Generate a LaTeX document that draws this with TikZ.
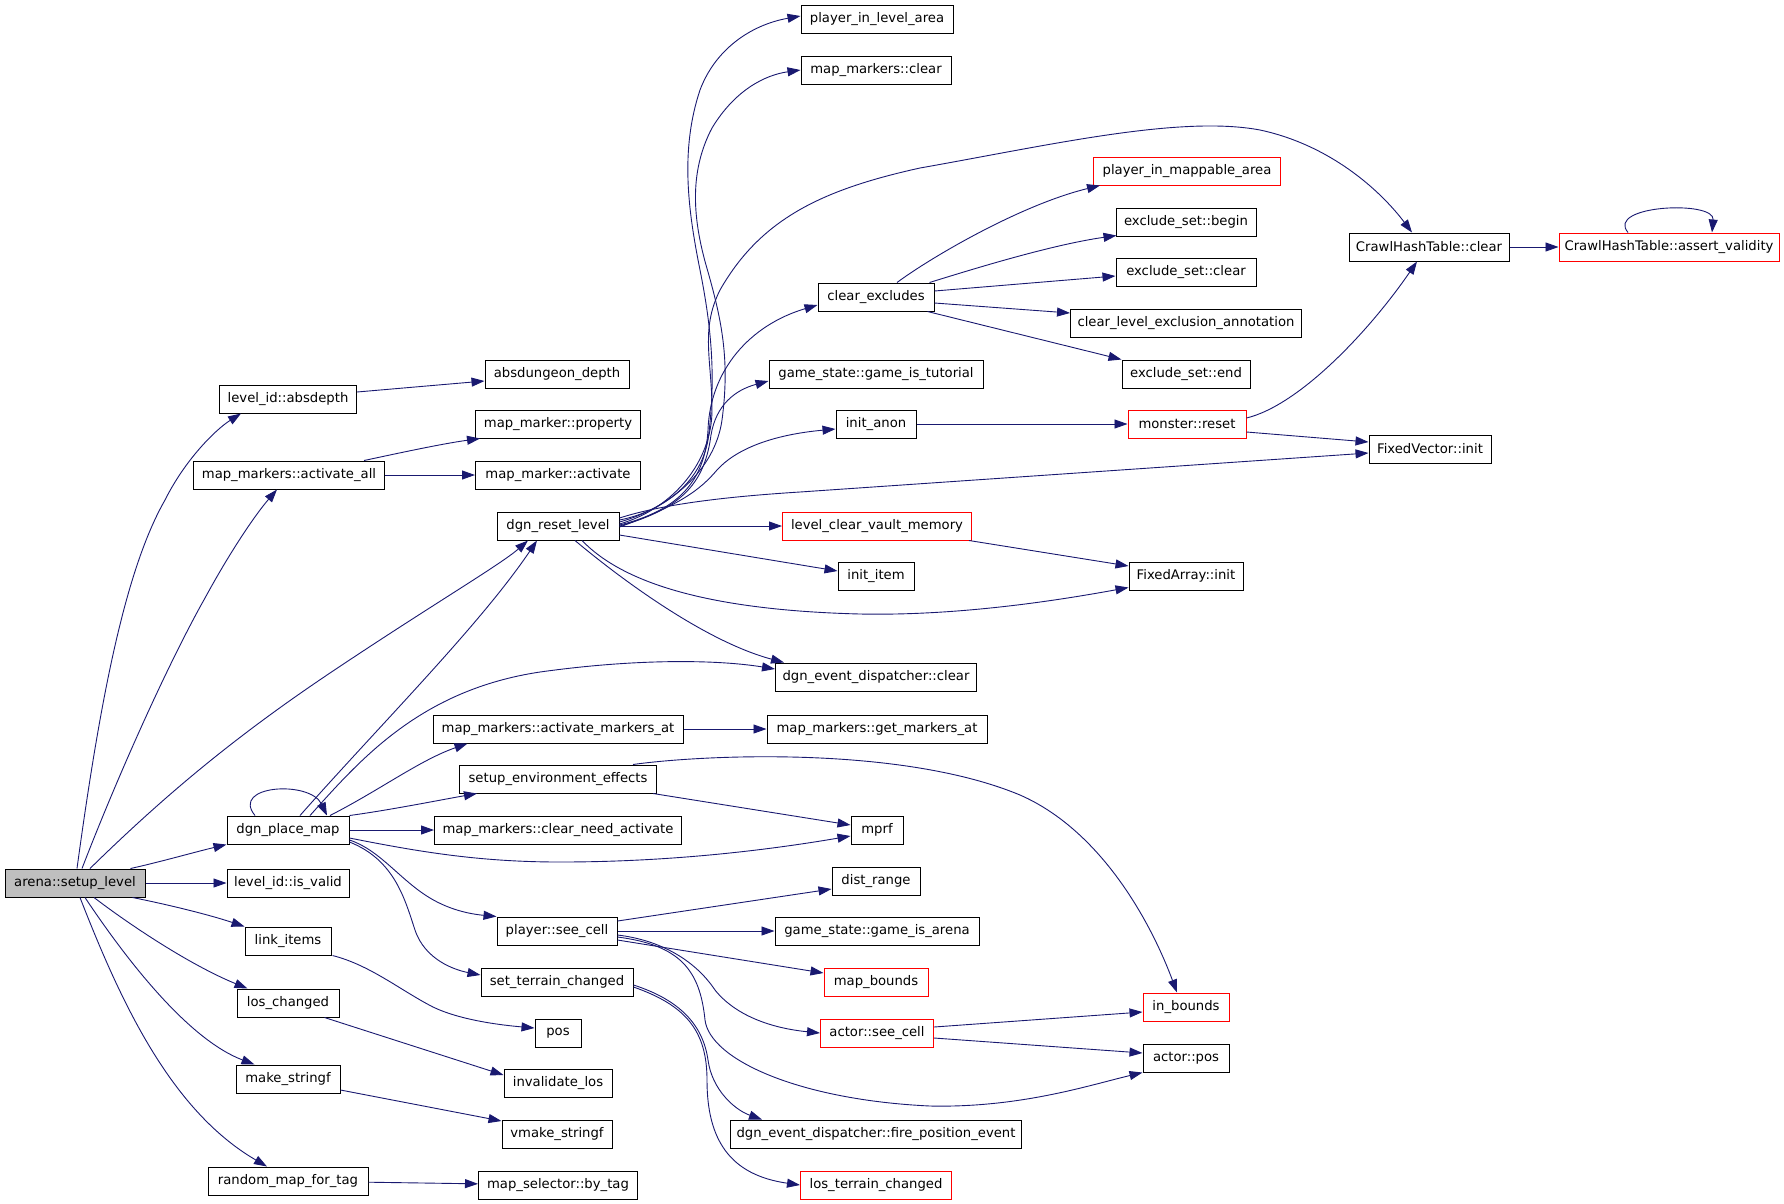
\documentclass[tikz,border=0pt]{standalone}
\usepackage{fontspec}
\setmainfont{DejaVu Sans}
\usetikzlibrary{arrows.meta,calc}
\definecolor{edgeblue}{HTML}{191970}
\definecolor{rootgray}{HTML}{BFBFBF}

\begin{document}
\begin{tikzpicture}[x=1pt, y=-1pt,
					fn/.style={draw=black, fill=white, line width=1pt, rectangle, minimum height=28pt,
						inner xsep=0pt, inner ysep=0pt, font=\fontsize{13.2}{15}\selectfont},
					hot/.style={fn, draw=red},
					root/.style={fn, fill=rootgray},
					call/.style={draw=edgeblue, line width=0.9pt, -{Triangle[length=13pt,width=9pt]}}]
				\useasboundingbox (0,0) rectangle (1784,1203);
				% column 0 and 1
				\node[root, minimum width=140pt] (arena) at (75,883) {arena::setup\_level};
				\node[fn, minimum width=137pt] (absdepth) at (288,399) {level\_id::absdepth};
				\node[fn, minimum width=191pt] (activateall) at (289,475) {map\_markers::activate\_all};
				\node[fn, minimum width=122pt] (placemap) at (288,830) {dgn\_place\_map};
				\node[fn, minimum width=122pt] (isvalid) at (288,883) {level\_id::is\_valid};
				\node[fn, minimum width=86pt] (linkitems) at (288,941) {link\_items};
				\node[fn, minimum width=102pt] (loschanged) at (288,1003) {los\_changed};
				\node[fn, minimum width=104pt] (makestringf) at (288,1079) {make\_stringf};
				\node[fn, minimum width=160pt] (randommap) at (288,1181) {random\_map\_for\_tag};
				% column 2
				\node[fn, minimum width=144pt] (absdungeon) at (557,374) {absdungeon\_depth};
				\node[fn, minimum width=165pt] (property) at (558,424) {map\_marker::property};
				\node[fn, minimum width=165pt] (activate) at (558,475) {map\_marker::activate};
				\node[fn, minimum width=122pt] (resetlevel) at (558,526) {dgn\_reset\_level};
				\node[fn, minimum width=250pt] (activateat) at (558,729) {map\_markers::activate\_markers\_at};
				\node[fn, minimum width=197pt] (envfx) at (558,779) {setup\_environment\_effects};
				\node[fn, minimum width=247pt] (needact) at (558,830) {map\_markers::clear\_need\_activate};
				\node[fn, minimum width=120pt] (seecell) at (557,931) {player::see\_cell};
				\node[fn, minimum width=152pt] (terrainchg) at (557,982) {set\_terrain\_changed};
				\node[fn, minimum width=46pt] (pos) at (558,1033) {pos};
				\node[fn, minimum width=108pt] (invlos) at (558,1083) {invalidate\_los};
				\node[fn, minimum width=110pt] (vmake) at (557,1134) {vmake\_stringf};
				\node[fn, minimum width=159pt] (bytag) at (558,1185) {map\_selector::by\_tag};
				% column 3
				\node[fn, minimum width=152pt] (plevelarea) at (877,19) {player\_in\_level\_area};
				\node[fn, minimum width=150pt] (mmclear) at (876,70) {map\_markers::clear};
				\node[fn, minimum width=116pt] (clearexcl) at (876,297) {clear\_excludes};
				\node[fn, minimum width=214pt] (tutorial) at (876,374) {game\_state::game\_is\_tutorial};
				\node[fn, minimum width=80pt] (initanon) at (876,424) {init\_anon};
				\node[hot, minimum width=189pt] (vaultmem) at (877,526) {level\_clear\_vault\_memory};
				\node[fn, minimum width=76pt] (inititem) at (876,576) {init\_item};
				\node[fn, minimum width=201pt] (evclear) at (876,677) {dgn\_event\_dispatcher::clear};
				\node[fn, minimum width=220pt] (getmarkers) at (877,729) {map\_markers::get\_markers\_at};
				\node[fn, minimum width=52pt] (mprf) at (877,830) {mprf};
				\node[fn, minimum width=88pt] (distrange) at (876,881) {dist\_range};
				\node[fn, minimum width=204pt] (isarena) at (877,931) {game\_state::game\_is\_arena};
				\node[hot, minimum width=104pt] (mapbounds) at (876,982) {map\_bounds};
				\node[hot, minimum width=113pt] (actorsee) at (877,1033) {actor::see\_cell};
				\node[fn, minimum width=291pt] (firepos) at (876,1134) {dgn\_event\_dispatcher::fire\_position\_event};
				\node[hot, minimum width=151pt] (losterrain) at (876,1185) {los\_terrain\_changed};
				% column 4 to 6
				\node[hot, minimum width=187pt] (pmappable) at (1187,171) {player\_in\_mappable\_area};
				\node[fn, minimum width=140pt] (exbegin) at (1186,222) {exclude\_set::begin};
				\node[fn, minimum width=140pt] (exclear) at (1186,272) {exclude\_set::clear};
				\node[fn, minimum width=231pt] (exannot) at (1186,323) {clear\_level\_exclusion\_annotation};
				\node[fn, minimum width=128pt] (exend) at (1186,374) {exclude\_set::end};
				\node[hot, minimum width=118pt] (monreset) at (1187,424) {monster::reset};
				\node[fn, minimum width=114pt] (fainit) at (1186,576) {FixedArray::init};
				\node[hot, minimum width=86pt] (inbounds) at (1186,1007) {in\_bounds};
				\node[fn, minimum width=86pt] (actorpos) at (1186,1058) {actor::pos};
				\node[fn, minimum width=160pt] (chtclear) at (1429,247) {CrawlHashTable::clear};
				\node[fn, minimum width=122pt] (fvinit) at (1430,449) {FixedVector::init};
				\node[hot, minimum width=220pt] (chtassert) at (1669,247) {CrawlHashTable::assert\_validity};

				% arena::setup_level
				\draw[call] ($(arena.north)+(2,0)$) .. controls (100,700) and (125,570) .. (165,500)
					.. controls (185,460) and (215,430) .. ($(absdepth.south west)+(22,0)$);
				\draw[call] ($(arena.north)+(7,0)$) .. controls (120,770) and (170,660) .. (205,598)
					.. controls (230,552) and (255,515) .. ($(activateall.south)+(-12,0)$);
				\draw[call] ($(arena.north)+(15,0)$) .. controls (160,800) and (230,740) .. (330,673)
					.. controls (430,606) and (500,565) .. ($(resetlevel.south)+(-30,0)$);
				\draw[call] ($(arena.north east)+(-15,0)$) .. controls (160,862) and (195,852) .. (placemap.south west);
				\draw[call] (arena) -- (isvalid);
				\draw[call] ($(arena.south east)+(-13,0)$) .. controls (170,905) and (210,915) .. (linkitems.north west);
				\draw[call] ($(arena.south)+(19,0)$) .. controls (130,925) and (190,965) .. ($(loschanged.north west)+(11,0)$);
				\draw[call] ($(arena.south)+(10,0)$) .. controls (130,965) and (190,1040) .. ($(makestringf.north west)+(19,0)$);
				\draw[call] ($(arena.south)+(5,0)$) .. controls (120,1000) and (170,1110) .. ($(randommap.north)+(-21,0)$);

				\draw[call] ($(absdepth.east)+(0,-7)$) -- ($(absdungeon.west)+(0,7)$);
				\draw[call] ($(activateall.north east)+(-21,0)$) .. controls (390,455) and (440,444) .. ($(property.south west)+(5,0)$);
				\draw[call] (activateall) -- (activate);

				% dgn_reset_level
				\draw[call] ($(resetlevel.east)+(0,-6)$) .. controls (660,512) and (700,485) .. (708,440)
					.. controls (716,380) and (712,330) .. (700,270)
					.. controls (688,210) and (680,150) .. (700,90)
					.. controls (715,50) and (750,25) .. ($(plevelarea.west)+(0,-3)$);
				\draw[call] ($(resetlevel.east)+(0,-4)$) .. controls (670,508) and (715,470) .. (722,420)
					.. controls (730,360) and (722,320) .. (706,265)
					.. controls (692,215) and (690,170) .. (712,128)
					.. controls (735,90) and (765,75) .. (mmclear.west);
				\draw[call] ($(resetlevel.east)+(0,-2)$) .. controls (675,508) and (712,460) .. (712,410)
					.. controls (712,360) and (700,330) .. (720,290)
					.. controls (760,220) and (820,190) .. (920,168)
					.. controls (1050,145) and (1180,115) .. (1260,130)
					.. controls (1330,145) and (1380,190) .. ($(chtclear.north)+(-17,0)$);
				\draw[call] ($(resetlevel.east)+(0,-1)$) .. controls (680,510) and (705,480) .. (708,430)
					.. controls (710,370) and (750,325) .. ($(clearexcl.west)+(0,8)$);
				\draw[call] (resetlevel.east) .. controls (685,508) and (705,480) .. (711,435)
					.. controls (716,405) and (735,390) .. ($(tutorial.west)+(0,7)$);
				\draw[call] ($(resetlevel.east)+(0,1)$) .. controls (680,505) and (700,490) .. (717,470)
					.. controls (735,450) and (770,435) .. ($(initanon.west)+(0,5)$);
				\draw[call] ($(resetlevel.east)+(0,-8)$) .. controls (660,505) and (720,497) .. (800,492)
					-- ($(fvinit.west)+(0,4)$);
				\draw[call] (resetlevel) -- (vaultmem);
				\draw[call] ($(resetlevel.east)+(0,9)$) -- ($(inititem.west)+(0,-5)$);
				\draw[call] ($(resetlevel.south)+(24,0)$) .. controls (620,580) and (700,610) .. (860,614)
					.. controls (960,616) and (1060,600) .. ($(fainit.south west)+(0,-3)$);
				\draw[call] ($(resetlevel.south)+(17,0)$) .. controls (610,570) and (700,640) .. ($(evclear.north west)+(9,0)$);

				% clear_excludes
				\draw[call] ($(clearexcl.north)+(21,0)$) .. controls (930,258) and (1020,205) .. ($(pmappable.south west)+(7,0)$);
				\draw[call] ($(clearexcl.north east)+(-5,0)$) .. controls (970,270) and (1050,245) .. ($(exbegin.south west)+(1,-1)$);
				\draw[call] ($(clearexcl.east)+(0,-6)$) -- ($(exclear.west)+(0,4)$);
				\draw[call] ($(clearexcl.east)+(0,6)$) -- ($(exannot.west)+(0,-10)$);
				\draw[call] ($(clearexcl.south east)+(-7,0)$) -- (exend.north west);

				\draw[call] (initanon) -- (monreset);
				\draw[call] ($(monreset.east)+(0,-6)$) .. controls (1300,405) and (1370,330) .. ($(chtclear.south)+(-12,0)$);
				\draw[call] ($(monreset.east)+(0,8)$) -- ($(fvinit.west)+(0,-7)$);
				\draw[call] (chtclear) -- (chtassert);
				\draw[call] ($(chtassert.north)+(-41,0)$) .. controls (1605,205) and (1715,200) .. ($(chtassert.north)+(43,0)$);
				\draw[call] ($(vaultmem.south east)+(-3,0)$) -- ($(fainit.west)+(0,-10)$);

				% dgn_place_map
				\draw[call] ($(placemap.north)+(-33,0)$) .. controls (230,785) and (310,780) .. ($(placemap.north)+(39,0)$);
				\draw[call] ($(placemap.north)+(12,0)$) .. controls (380,725) and (480,625) .. ($(resetlevel.south)+(-21,0)$);
				\draw[call] ($(placemap.north)+(22,0)$) .. controls (360,760) and (420,690) .. (540,672)
					.. controls (640,658) and (720,660) .. ($(evclear.west)+(0,-8)$);
				\draw[call] ($(placemap.north)+(42,0)$) .. controls (380,790) and (420,760) .. ($(activateat.south west)+(35,0)$);
				\draw[call] (placemap.north east) .. controls (390,810) and (440,800) .. ($(envfx.south west)+(18,0)$);
				\draw[call] (placemap) -- (needact);
				\draw[call] ($(placemap.east)+(0,8)$) .. controls (420,852) and (480,862) .. (560,862)
					.. controls (680,862) and (780,848) .. ($(mprf.west)+(0,6)$);
				\draw[call] ($(placemap.east)+(0,10)$) .. controls (380,850) and (400,880) .. (430,898)
					.. controls (450,910) and (470,914) .. (seecell.north west);
				\draw[call] ($(placemap.east)+(0,12)$) .. controls (395,860) and (405,900) .. (415,930)
					.. controls (425,960) and (455,970) .. ($(terrainchg.west)+(0,-7)$);

				\draw[call] (activateat) -- (getmarkers);
				\draw[call] ($(envfx.south east)+(-4,0)$) -- ($(mprf.west)+(0,-5)$);
				\draw[call] ($(envfx.north east)+(-24,0)$) .. controls (700,755) and (900,745) .. (1020,795)
					.. controls (1100,830) and (1150,920) .. ($(inbounds.north)+(-9,0)$);

				% player::see_cell
				\draw[call] ($(seecell.east)+(0,-10)$) -- ($(distrange.west)+(0,8)$);
				\draw[call] (seecell) -- (isarena);
				\draw[call] ($(seecell.east)+(0,9)$) -- ($(mapbounds.west)+(0,-9)$);
				\draw[call] ($(seecell.east)+(0,4)$) .. controls (660,940) and (695,960) .. (715,990)
					.. controls (735,1015) and (770,1028) .. (actorsee.west);
				\draw[call] ($(seecell.east)+(0,6)$) .. controls (680,945) and (700,970) .. (705,1020)
					.. controls (710,1060) and (800,1100) .. (930,1106)
					.. controls (1020,1108) and (1090,1085) .. (actorpos.south west);

				% set_terrain_changed
				\draw[call] ($(terrainchg.east)+(0,3)$) .. controls (680,1000) and (703,1025) .. (708,1060)
					.. controls (712,1090) and (735,1110) .. ($(firepos.north west)+(32,0)$);
				\draw[call] ($(terrainchg.east)+(0,5)$) .. controls (685,1005) and (707,1030) .. (707,1080)
					.. controls (707,1140) and (730,1175) .. (losterrain.west);

				\draw[call] ($(actorsee.east)+(0,-6)$) -- ($(inbounds.west)+(0,5)$);
				\draw[call] ($(actorsee.east)+(0,5)$) -- ($(actorpos.west)+(0,-5)$);

				% small callees
				\draw[call] ($(linkitems.south east)+(1,0)$) .. controls (370,965) and (400,990) .. (433,1007)
					.. controls (460,1020) and (500,1025) .. ($(pos.west)+(0,-5)$);
				\draw[call] ($(loschanged.south east)+(-15,0)$) -- ($(invlos.west)+(0,-8)$);
				\draw[call] ($(makestringf.east)+(0,11)$) -- ($(vmake.west)+(0,-13)$);
				\draw[call] (randommap) -- (bytag);
			\end{tikzpicture}
\end{document}
